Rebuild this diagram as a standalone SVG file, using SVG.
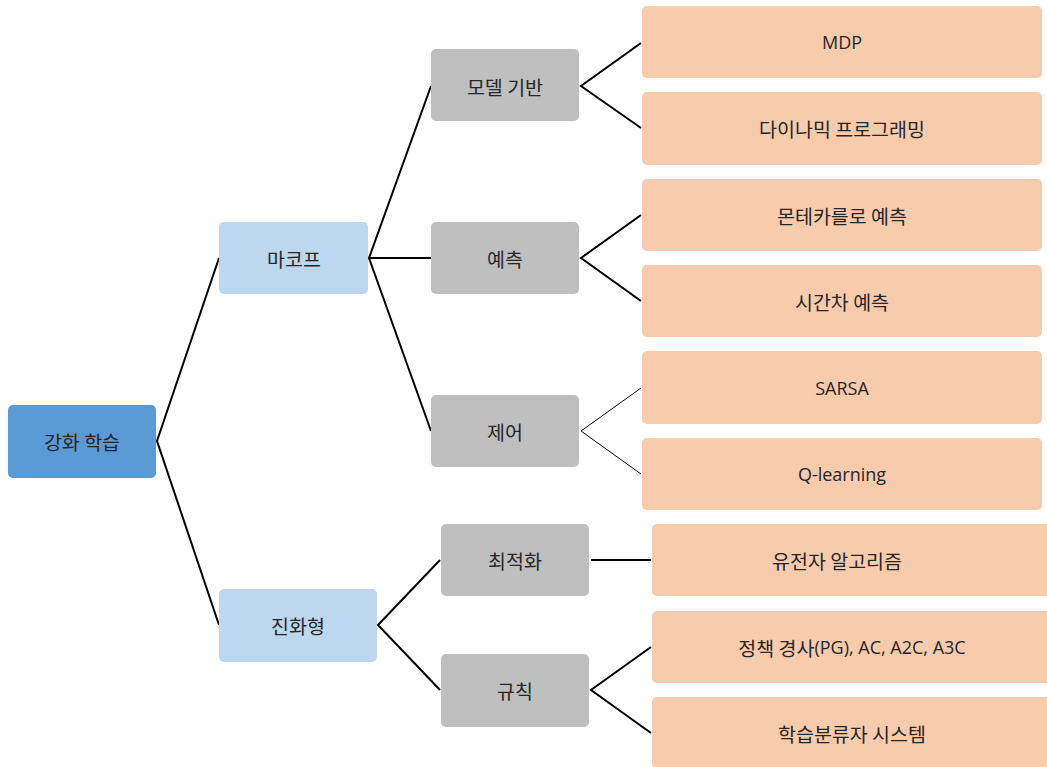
<svg xmlns="http://www.w3.org/2000/svg" width="1047" height="767" viewBox="0 0 1047 767">
<style>
.t{font-family:"Noto Sans CJK KR","Noto Sans",sans-serif;font-size:19.5px;fill:#262626;text-anchor:middle;dominant-baseline:central}
.lat{font-family:"Open Sans","Noto Sans CJK KR",sans-serif;font-size:18px}
.root{fill:#5b9bd5}
.l1{fill:#bdd7ee}
.l2{fill:#bfbfbf}
.l3{fill:#f8cbad}
.c{stroke:#000;stroke-width:2;fill:none}
.c1{stroke:#000;stroke-width:1;fill:none}
</style>
<rect width="1047" height="767" fill="#fff"/>
<g id="connectors">
<polyline class="c" points="219,258 157,441 219,625"/>
<polyline class="c" points="431,86 369,258 431,431"/>
<line class="c" x1="369" y1="258" x2="431" y2="258"/>
<polyline class="c" points="641,43 581,86 641,128"/>
<polyline class="c" points="641,215 581,258 641,301"/>
<polyline class="c1" points="641,388 581,431 641,474"/>
<polyline class="c" points="440,560 378,625 440,690"/>
<line class="c" x1="591" y1="560" x2="651" y2="560"/>
<polyline class="c" points="651,647 591,690 651,733"/>
</g>
<g id="n-root"><rect class="root" x="8" y="405" width="148" height="73" rx="5"/><text class="t" x="82" y="441">강화 학습</text></g>
<g id="n-markov"><rect class="l1" x="219" y="222" width="149" height="72" rx="5"/><text class="t" x="294" y="258">마코프</text></g>
<g id="n-evo"><rect class="l1" x="219" y="589" width="158" height="73" rx="5"/><text class="t" x="298" y="625">진화형</text></g>
<g id="n-model"><rect class="l2" x="431" y="49" width="148" height="72" rx="5"/><text class="t" x="505" y="86">모델 기반</text></g>
<g id="n-pred"><rect class="l2" x="431" y="222" width="148" height="72" rx="5"/><text class="t" x="505" y="258">예측</text></g>
<g id="n-ctrl"><rect class="l2" x="431" y="395" width="148" height="72" rx="5"/><text class="t" x="505" y="431">제어</text></g>
<g id="n-opt"><rect class="l2" x="441" y="524" width="148" height="72" rx="5"/><text class="t" x="515" y="560">최적화</text></g>
<g id="n-rule"><rect class="l2" x="441" y="654" width="148" height="73" rx="5"/><text class="t" x="515" y="690">규칙</text></g>
<g id="n-mdp"><rect class="l3" x="642" y="6" width="400" height="72" rx="5"/><text class="t lat" x="842" y="42">MDP</text></g>
<g id="n-dp"><rect class="l3" x="642" y="92" width="400" height="73" rx="5"/><text class="t" x="842" y="128">다이나믹 프로그래밍</text></g>
<g id="n-mc"><rect class="l3" x="642" y="179" width="400" height="72" rx="5"/><text class="t" x="842" y="215">몬테카를로 예측</text></g>
<g id="n-td"><rect class="l3" x="642" y="265" width="400" height="72" rx="5"/><text class="t" x="842" y="301">시간차 예측</text></g>
<g id="n-sarsa"><rect class="l3" x="642" y="351" width="400" height="73" rx="5"/><text class="t lat" x="842" y="388">SARSA</text></g>
<g id="n-q"><rect class="l3" x="642" y="438" width="400" height="72" rx="5"/><text class="t lat" x="842" y="474">Q-learning</text></g>
<g id="n-ga"><rect class="l3" x="652" y="524" width="400" height="72" rx="5"/><text class="t" x="837" y="560">유전자 알고리즘</text></g>
<g id="n-pg"><rect class="l3" x="652" y="611" width="400" height="72" rx="5"/><text class="t" x="852" y="647">정책 경사<tspan class="lat">(PG), AC, A2C, A3C</tspan></text></g>
<g id="n-lcs"><rect class="l3" x="652" y="697" width="400" height="72" rx="5"/><text class="t" x="852" y="733">학습분류자 시스템</text></g>
</svg>
